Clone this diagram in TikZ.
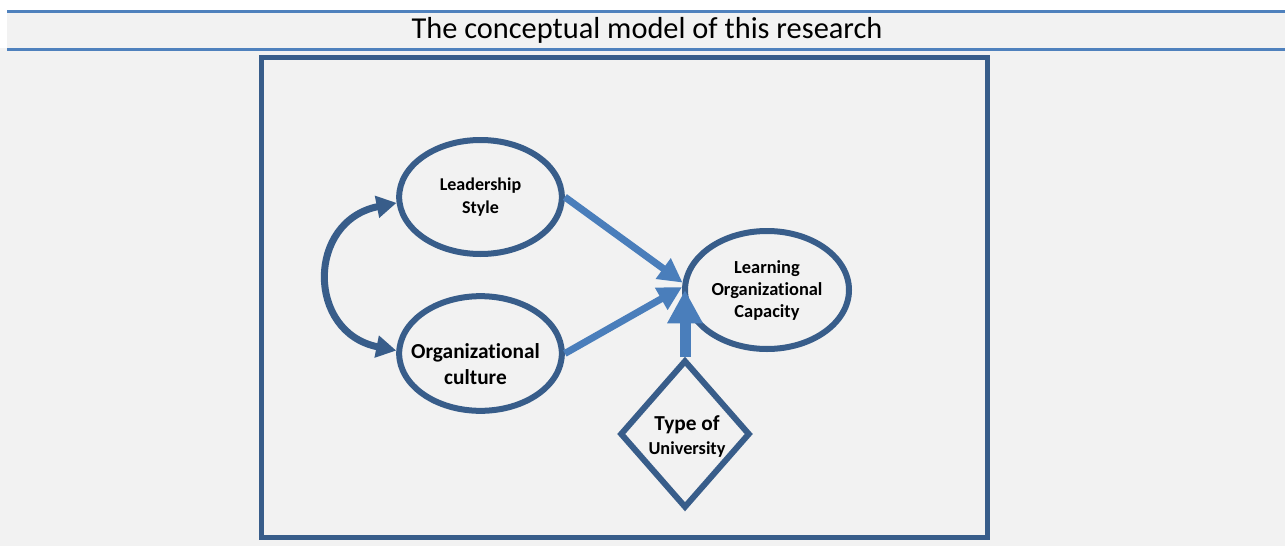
\documentclass[tikz,border=0pt]{standalone}
\usepackage{fontspec}
\setmainfont{Carlito}[Ligatures=CommonOff]
\usepackage{xcolor}
\usepackage{tikz}
\usetikzlibrary{shapes.geometric,arrows.meta}

\definecolor{darkblue}{HTML}{385D8A}
\definecolor{lightblue}{HTML}{4A7EBB}
\definecolor{rulecolor}{HTML}{4F81BD}
\definecolor{backgray}{HTML}{F2F2F2}

\begin{document}
\begin{tikzpicture}[x=0.75pt, y=-0.75pt,
	oval/.style={draw=darkblue, line width=4.5pt, ellipse, inner sep=0pt, align=center, text=black},
	link/.style={draw=lightblue, line width=5.25pt, -{Triangle[length=18pt, width=18pt]}},
	twoway/.style={draw=darkblue, line width=5.25pt, {Triangle[length=15pt, width=16pt]}-{Triangle[length=15pt, width=16pt]}}]
	\useasboundingbox (0,0) rectangle (1285,546);
	\fill[white] (0,0) rectangle (1285,546);
	\fill[backgray] (7,10) rectangle (1285,546);
	\fill[backgray] (0,48) rectangle (7,546);
	% title between two rules
	\draw[rulecolor, line width=2.25pt] (7,11) -- (1285,11);
	\draw[rulecolor, line width=2.25pt] (7,49) -- (1285,49);
	\node[font=\fontsize{22.8pt}{26pt}\selectfont] (title) at (647,30) {The conceptual model of this research};
	\draw[darkblue, line width=3.75pt] (261.5,57.5) rectangle (987.5,537.5);
	% variables
	\node[oval, minimum width=122pt, minimum height=85.5pt, font=\fontsize{13.5pt}{17pt}\selectfont\bfseries] (lead) at (480.5,197) {Leadership\\Style};
	\node[oval, minimum width=122pt, minimum height=86pt] (org) at (480.5,353.5) {};
	\node[align=center, font=\fontsize{16pt}{19.5pt}\selectfont\bfseries] (orgtext) at (475.5,364) {Organizational\\culture};
	\node[oval, minimum width=123pt, minimum height=88.5pt, font=\fontsize{13.8pt}{16.5pt}\selectfont\bfseries] (learn) at (767,290) {Learning\\Organizational\\Capacity};
	\node[diamond, draw=darkblue, line width=4.5pt, inner sep=0pt, minimum width=97.5pt, minimum height=111pt] (uni) at (685,434) {};
	\node[align=center, font=\fontsize{16pt}{18pt}\selectfont\bfseries] (unitext) at (687,437) {Type of\\{\fontsize{13.7pt}{18pt}\selectfont University}};
	% relations
	\draw[link] (lead.east) -- (learn.175);
	\draw[link] (org.east) -- (learn.178);
	\draw[link, line width=8.25pt, -{Triangle[length=25pt, width=25pt]}] (uni.north) -- (uni.north |- learn.west);
	\draw[twoway] (lead.184) .. controls +(-90,18) and +(-90,-18) .. (org.178);
\end{tikzpicture}
\end{document}
